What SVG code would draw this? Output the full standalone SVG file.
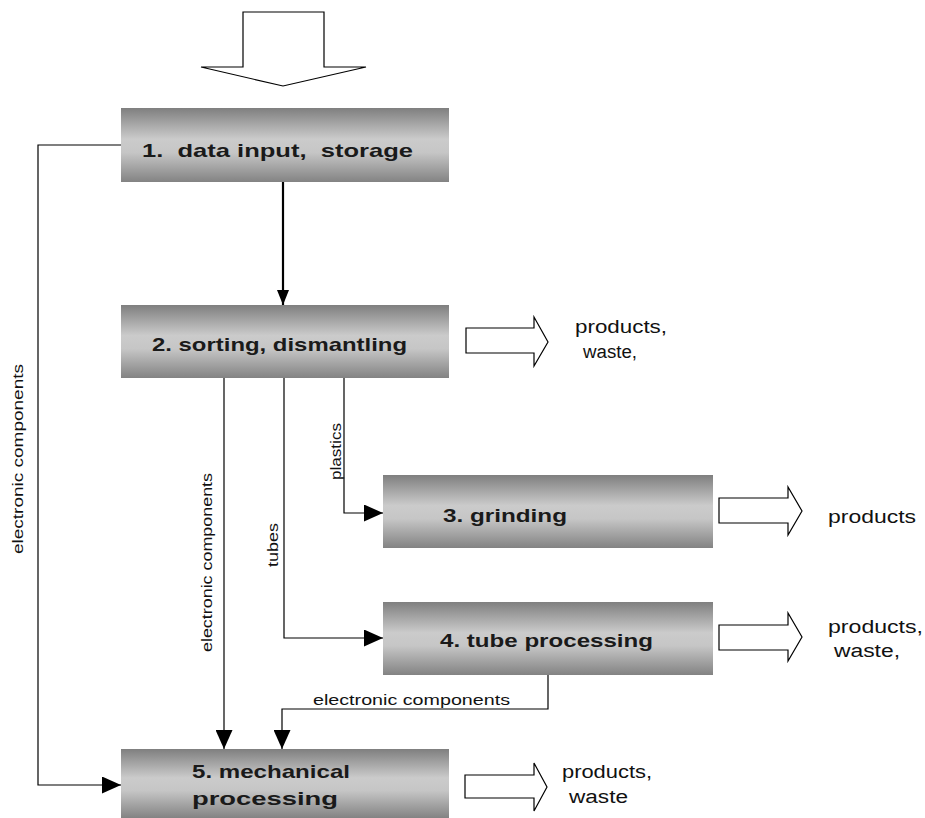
<svg xmlns="http://www.w3.org/2000/svg" width="925" height="818" viewBox="0 0 925 818">
<style>
.box{fill:url(#g)}
.bt{font-family:"Liberation Sans",Arial,sans-serif;font-weight:bold;font-size:19px;fill:#1a1a1a;white-space:pre}
.lt{font-family:"Liberation Sans",Arial,sans-serif;font-size:18px;fill:#111;white-space:pre}
.st{font-family:"Liberation Sans",Arial,sans-serif;font-size:14px;fill:#111}
.ln{fill:none;stroke:#000;stroke-width:1.2}
.thick{stroke-width:2.2}
.hol{fill:#fff;stroke:#000;stroke-width:1.2}
</style>
<defs>
<linearGradient id="g" x1="0" y1="0" x2="0" y2="1">
<stop offset="0" stop-color="#7f7f7f"/>
<stop offset="0.42" stop-color="#cbcbcb"/>
<stop offset="0.6" stop-color="#c6c6c6"/>
<stop offset="1" stop-color="#838383"/>
</linearGradient>
<marker id="ah" markerWidth="19" markerHeight="17" refX="19" refY="8.5" orient="auto" markerUnits="userSpaceOnUse">
<path d="M0,0 L19,8.5 L0,17 Z" fill="#000"/>
</marker>
<marker id="ahs" markerWidth="15" markerHeight="12" refX="15" refY="6" orient="auto" markerUnits="userSpaceOnUse">
<path d="M0,0 L15,6 L0,12 Z" fill="#000"/>
</marker>
</defs>

<polygon id="input-arrow" class="hol" points="243,12 324,12 324,67 366,67 283,86 201,67 243,67"/>

<g id="connectors">
<path class="ln thick" d="M283,182 L283,305" marker-end="url(#ahs)"/>
<path class="ln" d="M121,145 L38,145 L38,785 L121,785" marker-end="url(#ah)"/>
<path class="ln" d="M224,378 L224,749" marker-end="url(#ah)"/>
<path class="ln" d="M284,378 L284,638 L383,638" marker-end="url(#ah)"/>
<path class="ln" d="M344,378 L344,513 L383,513" marker-end="url(#ah)"/>
<path class="ln" d="M548,675 L548,709 L282,709 L282,749" marker-end="url(#ah)"/>
<text class="st" transform="rotate(-90 23 459)" x="23" y="459" text-anchor="middle" textLength="190" lengthAdjust="spacingAndGlyphs">electronic components</text>
<text class="st" transform="rotate(-90 212 652)" x="212" y="652" textLength="179" lengthAdjust="spacingAndGlyphs">electronic components</text>
<text class="st" transform="rotate(-90 278 567)" x="278" y="567" textLength="44" lengthAdjust="spacingAndGlyphs">tubes</text>
<text class="st" transform="rotate(-90 341 480)" x="341" y="480" textLength="57" lengthAdjust="spacingAndGlyphs">plastics</text>
<text class="st" x="313" y="705" textLength="197" lengthAdjust="spacingAndGlyphs">electronic components</text>
</g>

<g id="node1">
<rect class="box" x="121" y="108" width="328" height="74"/>
<text class="bt" x="142" y="157" textLength="271" lengthAdjust="spacingAndGlyphs">1.  data input,  storage</text>
</g>

<g id="node2">
<rect class="box" x="121" y="305" width="328" height="73"/>
<text class="bt" x="152" y="351" textLength="255" lengthAdjust="spacingAndGlyphs">2. sorting, dismantling</text>
<polygon class="hol" points="466,328 534,328 534,317 548,342 534,366 534,353 466,353"/>
<text class="lt" x="575" y="333" textLength="92" lengthAdjust="spacingAndGlyphs">products,</text>
<text class="lt" x="583" y="358" textLength="54" lengthAdjust="spacingAndGlyphs">waste,</text>
</g>

<g id="node3">
<rect class="box" x="383" y="475" width="330" height="73"/>
<text class="bt" x="443" y="522" textLength="124" lengthAdjust="spacingAndGlyphs">3. grinding</text>
<polygon class="hol" points="719,498 788,498 788,487 802,511 788,535 788,523 719,523"/>
<text class="lt" x="828" y="523" textLength="88" lengthAdjust="spacingAndGlyphs">products</text>
</g>

<g id="node4">
<rect class="box" x="383" y="602" width="330" height="73"/>
<text class="bt" x="440" y="647" textLength="213" lengthAdjust="spacingAndGlyphs">4. tube processing</text>
<polygon class="hol" points="719,625 788,625 788,613 802,637 788,661 788,650 719,650"/>
<text class="lt" x="828" y="633" textLength="95" lengthAdjust="spacingAndGlyphs">products,</text>
<text class="lt" x="834" y="657" textLength="66" lengthAdjust="spacingAndGlyphs">waste,</text>
</g>

<g id="node5">
<rect class="box" x="121" y="749" width="328" height="69"/>
<text class="bt" x="192" y="778" textLength="158" lengthAdjust="spacingAndGlyphs">5. mechanical</text>
<text class="bt" x="192" y="805" textLength="146" lengthAdjust="spacingAndGlyphs">processing</text>
<polygon class="hol" points="465,775 534,775 534,763 547,787 534,811 534,798 465,798"/>
<text class="lt" x="562" y="778" textLength="90" lengthAdjust="spacingAndGlyphs">products,</text>
<text class="lt" x="569" y="803" textLength="59" lengthAdjust="spacingAndGlyphs">waste</text>
</g>
</svg>
